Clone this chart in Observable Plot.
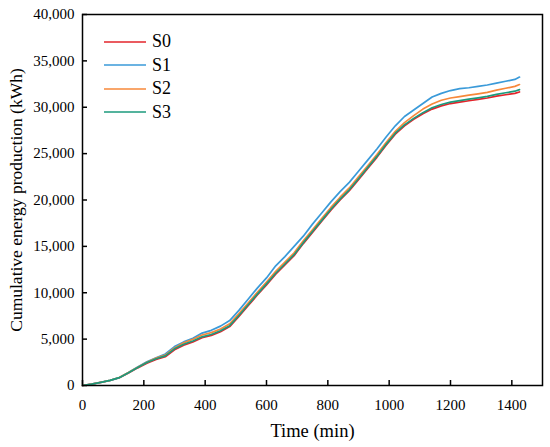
<!DOCTYPE html>
<html><head><meta charset="utf-8">
<script src="https://cdn.jsdelivr.net/npm/d3@7"></script>
<script src="https://cdn.jsdelivr.net/npm/@observablehq/plot@0.6"></script>
<style>
body{margin:0;background:#fff;font-family:"Liberation Serif","Times New Roman",serif;}
#wrap{position:relative;width:550px;height:447px;}
#wrap svg text{font-family:"Liberation Serif","Times New Roman",serif !important;font-weight:normal;font-variant:normal !important;}
#legend{position:absolute;left:104px;top:30px;font-size:18px;color:#000;font-family:"Liberation Serif",serif;}
.item{display:flex;align-items:center;height:23.5px;}
.item svg{margin-right:6px;}
</style></head><body><div id="wrap"></div>
<script>
const time=[0,30,60,90,120,150,180,210,240,270,300,330,360,390,420,450,480,510,540,570,600,630,660,690,720,750,780,810,840,870,900,930,960,990,1020,1050,1080,1110,1140,1170,1200,1230,1260,1290,1320,1350,1380,1410,1425];
const S0=[0,150,340,540,830,1350,1900,2400,2800,3100,3850,4350,4700,5150,5400,5800,6350,7450,8600,9750,10850,12000,13000,14000,15300,16500,17700,18900,20000,21000,22200,23400,24600,25900,27100,28000,28700,29300,29800,30150,30400,30550,30700,30850,31000,31200,31350,31500,31650];
const S1=[0,150,350,550,850,1400,2000,2550,3000,3400,4200,4700,5100,5650,5950,6400,7000,8100,9300,10500,11600,12900,13900,15000,16100,17400,18600,19800,20900,21900,23100,24300,25500,26800,28000,29000,29700,30400,31100,31500,31800,32000,32100,32250,32400,32600,32800,33000,33250];
const S2=[0,150,350,560,860,1400,1980,2500,2950,3280,4050,4600,4980,5450,5700,6100,6650,7750,8900,10050,11150,12300,13300,14300,15600,16800,18000,19200,20300,21300,22500,23700,24900,26200,27400,28350,29100,29800,30350,30750,31000,31150,31300,31450,31600,31850,32050,32250,32450];
const S3=[0,150,345,550,845,1380,1950,2480,2890,3200,3950,4450,4800,5250,5500,5900,6450,7550,8700,9850,10950,12100,13100,14100,15400,16600,17800,19000,20100,21100,22300,23500,24700,26000,27200,28100,28800,29420,29940,30300,30560,30720,30870,31020,31180,31390,31560,31730,31900];
const seriesNames=["S0","S1","S2","S3"];
const colors=["#e3242b","#3a9ad9","#f7883a","#1b9a7c"];
const xTicks=[0,200,400,600,800,1000,1200,1400];
const yTicks=[0,5000,10000,15000,20000,25000,30000,35000,40000];
const xLabel="Time (min)";
const yLabel="Cumulative energy production (kWh)";

const seriesValues=[S0,S1,S2,S3];
const data=seriesNames.flatMap((s,i)=>time.map((t,j)=>({series:s,time:t,value:seriesValues[i][j]})));

const plot=Plot.plot({
  width:550,height:447,marginLeft:82,marginRight:8,marginTop:14,marginBottom:62,
  style:{fontFamily:"'Liberation Serif', serif",fontSize:"15px",color:"#000",background:"#fff",overflow:"visible"},
  x:{domain:[0,1500]},
  y:{domain:[0,40000]},
  color:{domain:seriesNames,range:colors},
  marks:[
    Plot.axisX({ticks:xTicks,tickSize:0,tickPadding:14,tickFormat:d=>String(d),label:null,fontSize:15}),
    Plot.axisX({ticks:xTicks,tickSize:5,dy:-5,text:null,label:null,strokeWidth:1.5}),
    Plot.axisY({ticks:yTicks,tickSize:0,tickPadding:8,tickFormat:d3.format(","),label:null,fontSize:15}),
    Plot.axisY({ticks:yTicks,tickSize:5,dx:5,text:null,label:null,strokeWidth:1.5}),
    Plot.line(data,{x:"time",y:"value",stroke:"series",strokeWidth:1.7}),
    Plot.frame({stroke:"#000",strokeWidth:1.5}),
    Plot.text([xLabel],{text:d=>d,frameAnchor:"bottom",dy:51,fontSize:18.5,fill:"#000",textAnchor:"middle"}),
    Plot.text([yLabel],{text:d=>d,frameAnchor:"left",rotate:-90,dx:-66,fontSize:17.5,fill:"#000",textAnchor:"middle"})
  ]
});
const wrap=document.getElementById("wrap");
wrap.appendChild(plot);
plot.querySelectorAll("text").forEach(t=>t.setAttribute("font-family","Liberation Serif"));
const legend=document.createElement("div");
legend.id="legend";
const ns="http://www.w3.org/2000/svg";
seriesNames.forEach((s,i)=>{
  const it=document.createElement("div");it.className="item";
  const sw=document.createElementNS(ns,"svg");sw.setAttribute("width","42");sw.setAttribute("height","4");
  const ln=document.createElementNS(ns,"line");
  ln.setAttribute("x1","0");ln.setAttribute("x2","42");ln.setAttribute("y1","2");ln.setAttribute("y2","2");
  ln.setAttribute("stroke",colors[i]);ln.setAttribute("stroke-width","1.5");
  sw.appendChild(ln);
  const lb=document.createElement("span");lb.textContent=s;
  it.appendChild(sw);it.appendChild(lb);legend.appendChild(it);
});
wrap.appendChild(legend);
</script></body></html>
